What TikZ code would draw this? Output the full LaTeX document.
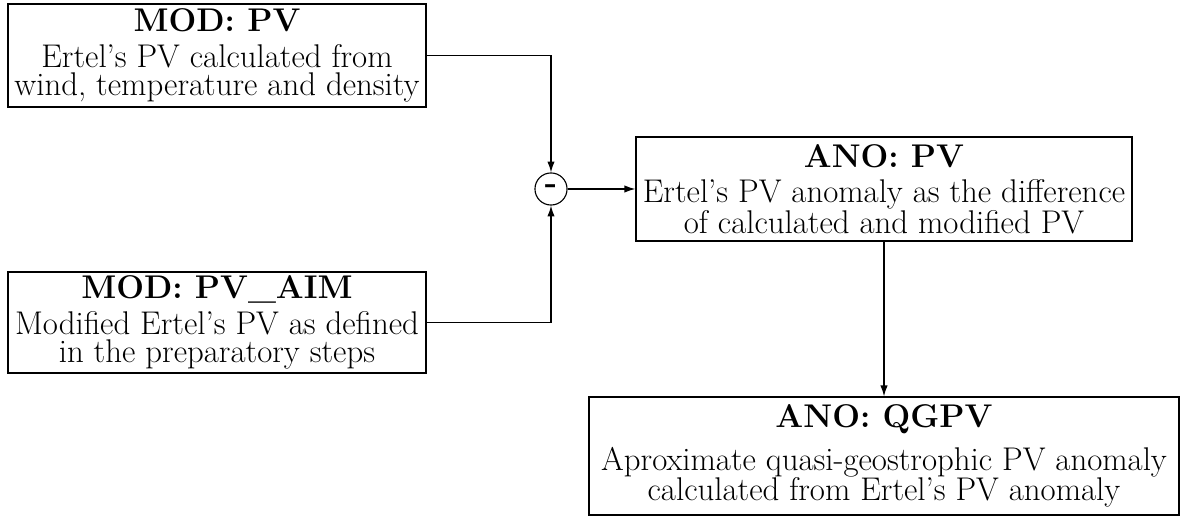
\documentclass[tikz,border=0pt]{standalone}
\usetikzlibrary{arrows.meta}
\begin{document}
\begin{tikzpicture}[x=0.533pt,y=-0.533pt,
  box/.style={draw, line width=0.7pt, align=center, inner sep=0pt,
    font=\fontsize{17.5}{20.74}\selectfont},
  conn/.style={line width=0.6pt, -{Latex[length=5.8pt,width=3.9pt]}},
  op/.style={draw, circle, line width=0.6pt, inner sep=0pt, minimum size=17.1pt,
    font=\fontsize{17.5}{20.74}\selectfont\bfseries}]
\useasboundingbox (0,0) rectangle (1185,517);
\node[box, minimum width=222.8pt, minimum height=54.9pt] (mpv) at (217,55.5)
  {\textbf{MOD: PV}\\[-1.5pt] Ertel's PV calculated from\\[-5.6pt] wind, temperature and density};
\node[box, minimum width=222.8pt, minimum height=53.8pt] (aim) at (217,322.5)
  {\textbf{MOD: PV\_AIM}\\[-1.8pt] Modified Ertel's PV as defined\\[-5.6pt] in the preparatory steps};
\node[box, minimum width=264.4pt, minimum height=55.4pt] (apv) at (884,189)
  {\textbf{ANO: PV}\\[-2pt] Ertel's PV anomaly as the difference\\[-4.2pt] of calculated and modified PV};
\node[box, minimum width=314.5pt, minimum height=62.9pt] (qg) at (884,456)
  {\textbf{ANO: QGPV}\\[2.2pt] Aproximate quasi-geostrophic PV anomaly\\[-4.7pt] calculated from Ertel's PV anomaly};
\node[op] (minus) at (551,189) {-};
\draw[conn] (mpv.east) -| (minus.north);
\draw[conn] (aim.east) -| (minus.south);
\draw[conn] (minus.east) -- (apv.west);
\draw[conn] (apv.south) -- (qg.north);
\end{tikzpicture}
\end{document}
